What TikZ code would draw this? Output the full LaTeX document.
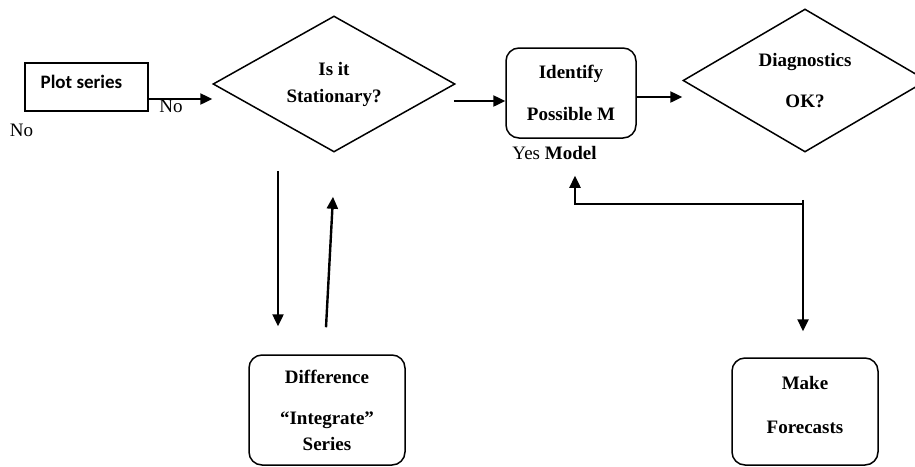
\documentclass[tikz,border=0pt]{standalone}
\usepackage{fontspec}
\setmainfont{Liberation Serif}
\newfontfamily\plotfont{Carlito}
\usetikzlibrary{shapes.geometric,arrows.meta}
\tikzset{
    every node/.style={font=\fontsize{19}{22}\selectfont},
    sqbox/.style={draw,line width=1.5pt,minimum width=123pt,minimum height=48pt,inner sep=0pt},
    rbox/.style={draw,line width=1.5pt,rounded corners=13pt,align=center,inner sep=0pt,font=\fontsize{19}{22}\selectfont\bfseries},
    dia/.style={draw,diamond,line width=1.5pt,shape aspect=1.75,align=center,inner sep=0pt,font=\fontsize{19}{22}\selectfont\bfseries},
    arr/.style={line width=2.4pt,-{Triangle[length=12pt,width=11pt]}}
}
\begin{document}
\begin{tikzpicture}[x=1pt,y=-1pt]
        \useasboundingbox (0,0) rectangle (915,466);
        \clip (0,0) rectangle (915,466);
        \node[sqbox,label={[xshift=-5pt,yshift=5pt,font=\fontsize{19}{22}\selectfont\plotfont\bfseries]center:Plot series}] (plot) at (86.5,87) {};
        \node[dia,minimum width=242pt,minimum height=136pt] (d1) at (334,84) {Is it\\[5pt]Stationary?};
        \node[rbox,minimum width=130pt,minimum height=90pt] (id) at (571,93) {Identify\\[20pt]Possible M};
        \node[dia,minimum width=244pt,minimum height=143pt] (d2) at (805,80.5) {Diagnostics\\[19pt]OK?};
        \node[rbox,minimum width=156pt,minimum height=110pt] (diff) at (327,410) {Difference\\[19pt]“Integrate”\\[4pt]Series};
        \node[rbox,minimum width=146pt,minimum height=107pt,label={[align=center,yshift=7pt,font=\fontsize{19}{22}\selectfont\bfseries]center:Make\\[22pt]Forecasts}] (mk) at (805,411.5) {};
        \node[] (no1) at (171,106.5) {No};
        \node[] (no2) at (21.5,130) {No};
        \node[] (yes) at (554.5,153) {Yes \textbf{Model}};
        \draw[arr] ([yshift=-12pt]plot.east) -- ([yshift=-15pt]d1.west);
        \draw[arr] ([xshift=-2pt,yshift=-17pt]d1.east) -- ([yshift=-8pt]id.west);
        \draw[arr] ([yshift=-4pt]id.east) -- ([yshift=-16.5pt]d2.west);
        \draw[arr] ([xshift=-56pt,yshift=-18pt]d1.south) -- ([xshift=-49pt,yshift=28pt]diff.north);
        \draw[arr] ([xshift=-1pt,yshift=27pt]diff.north) -- ([xshift=-1pt,yshift=-44pt]d1.south);
        \draw[arr] ([xshift=-2pt,yshift=-47pt]d2.south) -- ([xshift=-2pt,yshift=26pt]mk.north);
        \draw[arr] ([xshift=-2pt,yshift=-51pt]d2.south) -| ([xshift=4pt,yshift=-37pt]id.south);
\end{tikzpicture}
\end{document}
